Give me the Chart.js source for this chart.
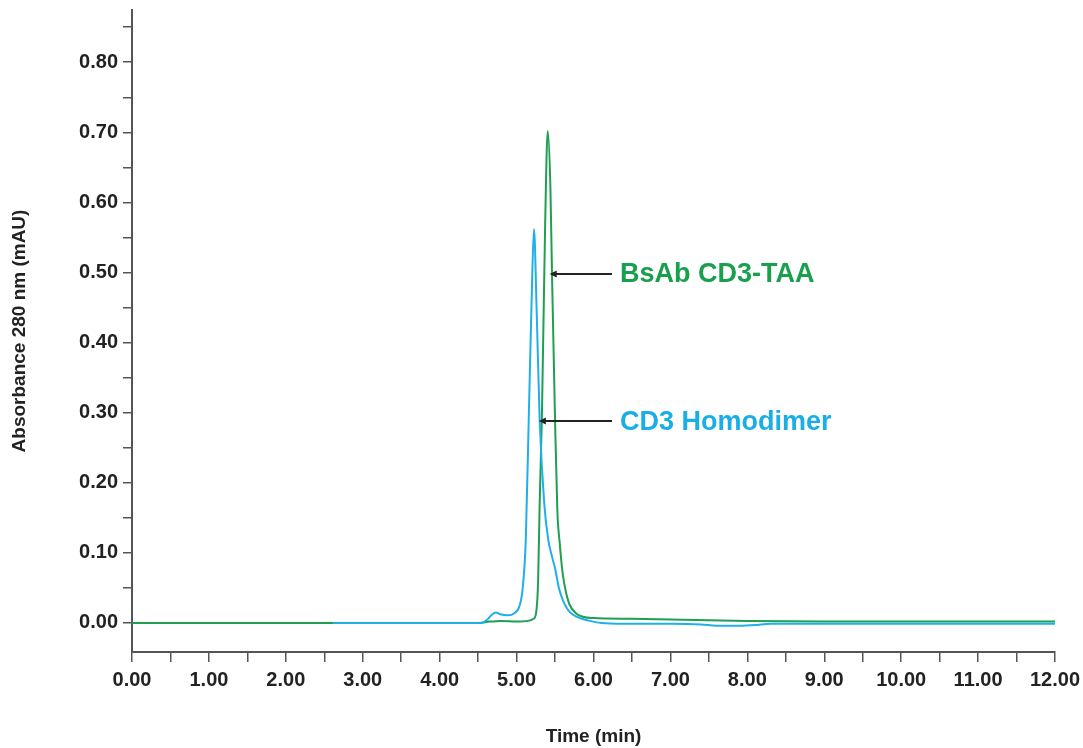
<!DOCTYPE html>
<html>
<head>
<meta charset="utf-8">
<script src="https://cdn.jsdelivr.net/npm/chart.js@4.4.1/dist/chart.umd.min.js"></script>
<style>
  html, body { margin: 0; padding: 0; background: #fff; }
  #wrap { width: 1083px; height: 748px; }
</style>
</head>
<body>
<div id="wrap"><canvas id="chromChart" width="1083" height="748"></canvas></div>
<script>
// BsAb CD3-TAA trace (green)
const bsabTime = [0, 2.6, 4.5, 4.65, 4.8, 5.0, 5.15, 5.22, 5.25, 5.28, 5.30, 5.33, 5.37, 5.405, 5.44, 5.46, 5.50, 5.53, 5.56, 5.60, 5.64, 5.69, 5.77, 5.86, 6.0, 6.5, 7.0, 8.0, 9.0, 12.0];
const bsabAbs  = [0, 0, 0, 0.002, 0.003, 0.002, 0.003, 0.006, 0.012, 0.06, 0.17, 0.30, 0.56, 0.702, 0.62, 0.50, 0.29, 0.16, 0.115, 0.07, 0.045, 0.026, 0.014, 0.009, 0.007, 0.006, 0.005, 0.003, 0.002, 0.002];

// CD3 homodimer trace (blue)
const homoTime = [2.61, 4.55, 4.62, 4.68, 4.73, 4.80, 4.89, 4.97, 5.04, 5.08, 5.12, 5.16, 5.20, 5.226, 5.26, 5.30, 5.36, 5.41, 5.46, 5.50, 5.55, 5.60, 5.66, 5.73, 5.85, 5.95, 6.1, 6.4, 7.0, 7.4, 7.6, 7.9, 8.1, 8.3, 12.0];
const homoAbs  = [0, 0, 0.005, 0.012, 0.015, 0.012, 0.011, 0.014, 0.025, 0.05, 0.12, 0.30, 0.48, 0.562, 0.45, 0.29, 0.17, 0.12, 0.095, 0.078, 0.05, 0.033, 0.02, 0.012, 0.006, 0.003, 0.0, -0.001, -0.001, -0.002, -0.004, -0.004, -0.003, -0.001, -0.001];

const xTicks = [0, 0.5, 1, 1.5, 2, 2.5, 3, 3.5, 4, 4.5, 5, 5.5, 6, 6.5, 7, 7.5, 8, 8.5, 9, 9.5, 10, 10.5, 11, 11.5, 12];
const yTicks = [0, 0.05, 0.1, 0.15, 0.2, 0.25, 0.3, 0.35, 0.4, 0.45, 0.5, 0.55, 0.6, 0.65, 0.7, 0.75, 0.8, 0.85];

// annotation labels: arrow tip (x,y), arrow tail x, text
const noteText  = ['BsAb CD3-TAA', 'CD3 Homodimer'];
const noteTipX  = [5.43, 5.29];
const noteTailX = [6.24, 6.24];
const noteY     = [0.498, 0.288];
const noteColor = ['#18a04c', '#1aaee6'];

const GREEN = '#1f9f52';
const BLUE = '#1fb0e8';
const FONT = '"Liberation Sans", Arial, Helvetica, sans-serif';

const toPoints = (xs, ys) => xs.map((x, i) => ({ x: x, y: ys[i] }));

const notesPlugin = {
    id: 'notes',
    afterDatasetsDraw(chart) {
        const ctx = chart.ctx;
        const xs = chart.scales.x, ys = chart.scales.y;
        ctx.save();
        noteText.forEach((t, i) => {
            const y = ys.getPixelForValue(noteY[i]);
            const tip = xs.getPixelForValue(noteTipX[i]);
            const tail = xs.getPixelForValue(noteTailX[i]);
            ctx.strokeStyle = '#222';
            ctx.fillStyle = '#222';
            ctx.lineWidth = 2;
            ctx.beginPath();
            ctx.moveTo(tail, y);
            ctx.lineTo(tip + 5, y);
            ctx.stroke();
            ctx.beginPath();
            ctx.moveTo(tip, y);
            ctx.lineTo(tip + 7, y - 3.5);
            ctx.lineTo(tip + 7, y + 3.5);
            ctx.closePath();
            ctx.fill();
            ctx.font = 'bold 27px ' + FONT;
            ctx.fillStyle = noteColor[i];
            ctx.textBaseline = 'middle';
            ctx.textAlign = 'left';
            ctx.fillText(t, tail + 8, y + 1);
        });
        ctx.restore();
    }
};

new Chart(document.getElementById('chromChart'), {
    type: 'line',
    data: {
        datasets: [
            { label: 'CD3 Homodimer', data: toPoints(homoTime, homoAbs), borderColor: BLUE, borderWidth: 2, pointRadius: 0, cubicInterpolationMode: 'monotone', order: 1 },
            { label: 'BsAb CD3-TAA', data: toPoints(bsabTime, bsabAbs), borderColor: GREEN, borderWidth: 2, pointRadius: 0, cubicInterpolationMode: 'monotone', order: 2 }
        ]
    },
    options: {
        responsive: false,
        animation: false,
        events: [],
        layout: { padding: { top: 10, right: 28, left: 0, bottom: 0 } },
        plugins: { legend: { display: false }, tooltip: { enabled: false } },
        scales: {
            x: {
                type: 'linear',
                min: 0,
                max: 12,
                afterFit: s => { s.height = 96; s.paddingLeft = 0; s.paddingRight = 0; },
                afterBuildTicks: s => { s.ticks = xTicks.map(v => ({ value: v })); },
                border: { display: true, color: '#555', width: 2 },
                grid: { display: true, drawOnChartArea: false, drawTicks: true, tickLength: 10, color: '#555', lineWidth: 1.5 },
                ticks: {
                    autoSkip: false, maxRotation: 0, padding: 6, color: '#222',
                    font: { family: FONT, size: 20, weight: 'bold' },
                    callback: v => (Math.abs(v - Math.round(v)) < 1e-6 ? v.toFixed(2) : '')
                },
                title: { display: true, text: 'Time (min)', color: '#222', font: { family: FONT, size: 19, weight: 'bold' }, padding: { top: 4, bottom: 0 } }
            },
            y: {
                type: 'linear',
                min: -0.0414,
                max: 0.8745,
                afterFit: s => { s.width = 132; s.paddingTop = 0; s.paddingBottom = 0; },
                afterBuildTicks: s => { s.ticks = yTicks.map(v => ({ value: v })); },
                border: { display: true, color: '#555', width: 2 },
                grid: { display: true, drawOnChartArea: false, drawTicks: true, tickLength: 9, color: '#555', lineWidth: 1.5 },
                ticks: {
                    autoSkip: false, padding: 5, color: '#222',
                    font: { family: FONT, size: 20, weight: 'bold' },
                    callback: v => (Math.abs(v * 10 - Math.round(v * 10)) < 1e-6 ? v.toFixed(2) : '')
                },
                title: { display: true, text: 'Absorbance 280 nm (mAU)', color: '#222', font: { family: FONT, size: 19, weight: 'bold' }, padding: { top: 8, bottom: 0 } }
            }
        }
    },
    plugins: [notesPlugin]
});
</script>
</body>
</html>
